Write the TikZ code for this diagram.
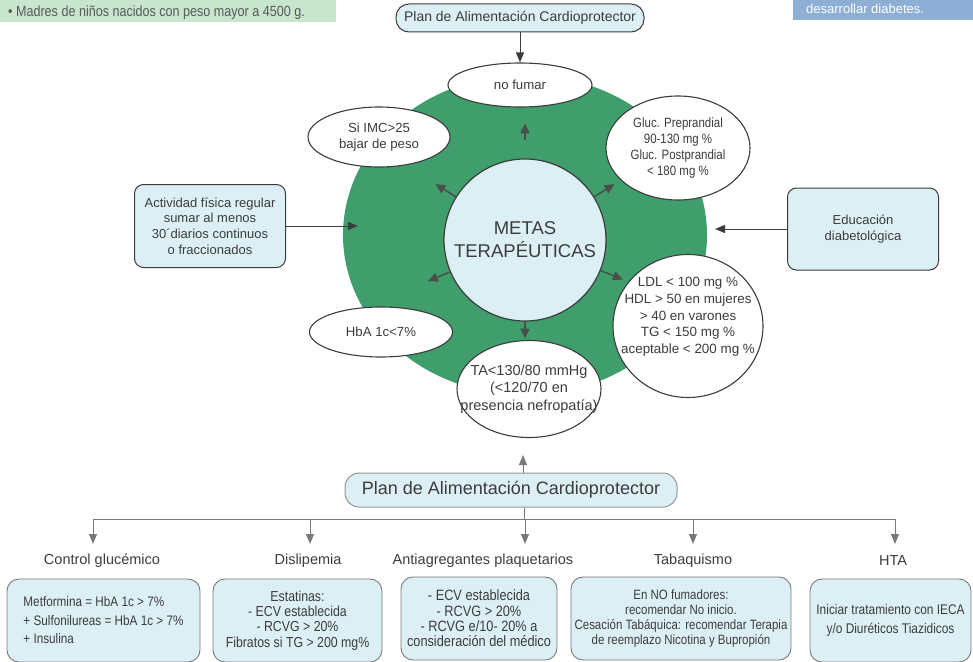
\documentclass[tikz,border=0pt]{standalone}
\usepackage{fontspec}
\setmainfont{Liberation Sans}
\newfontfamily\narrowsans[FakeStretch=0.85]{Liberation Sans}
\usepackage{tikz}
\usetikzlibrary{shapes.geometric, arrows.meta}
\usepackage{xcolor}

\definecolor{inkgray}{HTML}{3C3C3C}
\definecolor{paleblue}{HTML}{DCEFF5}
\definecolor{ringgreen}{HTML}{3F9E6C}
\definecolor{arrowgray}{HTML}{4A4F4A}
\definecolor{busgray}{HTML}{7A7A7A}
\definecolor{palegreen}{HTML}{C8E6CE}
\definecolor{stripblue}{HTML}{8DAFD6}

\tikzset{
    goal/.style={ellipse, draw=inkgray, line width=1.1pt, fill=white, inner sep=0pt, text=inkgray, align=center},
    goallabel/.style={align=center, text=inkgray, inner sep=0pt},
    infobox/.style={draw=inkgray, line width=1pt, fill=paleblue, rounded corners=9pt, text=inkgray, align=center, font=\fontsize{13}{15.7}\selectfont},
    planbox/.style={fill=paleblue, line width=1pt, text=inkgray},
    treatbox/.style={draw=busgray, line width=0.9pt, fill=paleblue, rounded corners=12pt, text=inkgray, align=center, minimum height=83, font=\narrowsans\fontsize{13.5}{15}\selectfont},
    catlabel/.style={text=inkgray, font=\fontsize{14.5}{17}\selectfont},
    flowarrow/.style={draw=busgray, line width=1pt, -{Triangle[length=10pt, width=8pt]}},
    goalarrow/.style={draw=arrowgray, line width=1.4pt, -{Triangle[length=10pt, width=9pt]}},
    busline/.style={draw=busgray, line width=1pt},
}

\begin{document}
\begin{tikzpicture}[x=1pt, y=-1pt]
    % Page size, and cut what runs over the edges
    \useasboundingbox (0,0) rectangle (973,661);
    \clip (0,0) rectangle (973,661);

    % Ends of the boxes above
    \fill[palegreen] (0,0) rectangle (336,22);
    \node[anchor=base west, inner sep=0pt, text=inkgray!85, font=\narrowsans\fontsize{14.8}{16}\selectfont] (madres) at (8,17) {• Madres de niños nacidos con peso mayor a 4500 g.};
    \fill[stripblue] (793,0) rectangle (973,20);
    \node[anchor=base west, inner sep=0pt, text=white, font=\fontsize{13}{15}\selectfont] (riesgo) at (806,14) {desarrollar diabetes.};

    % Green ring and the centre
    \node[ellipse, fill=ringgreen, minimum width=364, minimum height=320] (ring) at (525,235) {};
    \node[circle, draw=inkgray, line width=1.2pt, fill=paleblue, minimum size=162, inner sep=0pt, align=center, text=inkgray, font=\fontsize{18.5}{23}\selectfont] (metas) at (525,240) {METAS\\TERAPÉUTICAS};

    % Goals round the ring
    \node[goal, minimum width=144, minimum height=44, font=\fontsize{13.2}{16}\selectfont] (nofumar) at (520,85) {no fumar};
    \node[goal, minimum width=142, minimum height=60, font=\fontsize{13.2}{15.5}\selectfont] (imc) at (379,137) {Si IMC>25\\bajar de peso};
    \node[goal, minimum width=144, minimum height=104, font=\narrowsans\fontsize{13.5}{16.3}\selectfont] (glucemia) at (678,148) {Gluc. Preprandial\\90-130 mg \%\\Gluc. Postprandial\\< 180 mg \%};
    \node[goal, minimum width=150, minimum height=143] (lipidos) at (688,326) {};
    \node[goallabel, font=\fontsize{13.4}{16.7}\selectfont] (lipidostxt) at ([yshift=9pt]lipidos.center) {LDL < 100 mg \%\\HDL > 50 en mujeres\\> 40 en varones\\TG < 150 mg \%\\aceptable < 200 mg \%};
    \node[goal, minimum width=143, minimum height=50, font=\fontsize{13.2}{16}\selectfont] (hba) at (381,332) {HbA 1c<7\%};
    \node[goal, minimum width=144, minimum height=97] (presion) at (529,389) {};
    \node[goallabel, font=\fontsize{14.5}{17.5}\selectfont] (presiontxt) at (presion) {TA<130/80 mmHg\\(<120/70 en\\presencia nefropatía)};

    % Short arrows out of the centre
    \foreach \a in {32, 148, 203, 338}
        \draw[goalarrow] (metas.\a) -- ++(\a:24pt);
    \draw[goalarrow] ([yshift=18pt]metas.north) -- ++(90:17pt);
    \draw[goalarrow] (metas.south) -- ++(270:17pt);

    % Boxes that feed the ring
    \node[planbox, draw=inkgray, rounded corners=13pt, minimum width=248, minimum height=28, font=\fontsize{14}{16}\selectfont] (plantop) at (520,18) {Plan de Alimentación Cardioprotector};
    \node[infobox, minimum width=151, minimum height=83] (actividad) at (210,226) {Actividad física regular\\sumar al menos\\30´diarios continuos\\o fraccionados};
    \node[infobox, minimum width=151, minimum height=82, font=\fontsize{13}{16.5}\selectfont] (educacion) at (863,229) {Educación\\diabetológica};
    \coordinate (actin) at (358,226);
    \coordinate (edin) at (715,229);
    \draw[flowarrow, draw=inkgray] (plantop.south) -- (nofumar.north);
    \draw[flowarrow, draw=inkgray] (actividad) -- (actin);
    \draw[flowarrow, draw=inkgray] (educacion) -- (edin);

    % Lower plan and its branches
    \node[planbox, draw=busgray!80, rounded corners=14pt, minimum width=332, minimum height=34, font=\fontsize{18}{20}\selectfont] (planbot) at (511,490) {Plan de Alimentación Cardioprotector};
    \coordinate (tain) at (523,455);
    \coordinate (bus) at (524,519);
    \draw[flowarrow] (planbot.north -| tain) -- (tain);
    \draw[busline] (planbot.south -| bus) -- (bus);
    \foreach \n/\x in {gluc/93, disl/310, anti/525, taba/693, hta/895}
        \coordinate (in\n) at (\x,544);
    \draw[busline] (bus -| ingluc) -- (bus -| inhta);
    \foreach \n in {gluc, disl, anti, taba, hta}
        \draw[flowarrow] (bus -| in\n) -- (in\n);

    % Headings of the treatments
    \node[catlabel] (catgluc) at (102,561) {Control glucémico};
    \node[catlabel] (catdisl) at (308,561) {Dislipemia};
    \node[catlabel] (catanti) at (483,561) {Antiagregantes plaquetarios};
    \node[catlabel] (cattaba) at (693,561) {Tabaquismo};
    \node[catlabel] (cathta) at (893,561) {HTA};

    % Treatment boxes
    \node[treatbox, minimum width=193, align=left, font=\narrowsans\fontsize{13.8}{18.5}\selectfont] (metformina) at (103.5,620.5) {Metformina = HbA 1c > 7\%\\+ Sulfonilureas = HbA 1c > 7\%\\+ Insulina};
    \node[treatbox, minimum width=169, font=\narrowsans\fontsize{14.5}{15.3}\selectfont] (estatinas) at (297.5,620.5) {Estatinas:\\- ECV establecida\\- RCVG > 20\%\\Fibratos si TG > 200 mg\%};
    \node[treatbox, minimum width=156, font=\narrowsans\fontsize{15}{15.3}\selectfont] (aspirina) at (479,618.5) {- ECV establecida\\- RCVG > 20\%\\- RCVG e/10- 20\% a\\consideración del médico};
    \node[treatbox, minimum width=220] (cesacion) at (681,618.5) {En NO fumadores:\\recomendar No inicio.\\Cesación Tabáquica: recomendar Terapia\\de reemplazo Nicotina y Bupropión};
    \node[treatbox, minimum width=161, font=\narrowsans\fontsize{14}{19}\selectfont] (ieca) at (890.5,620.5) {Iniciar tratamiento con IECA\\y/o Diuréticos Tiazidicos};
\end{tikzpicture}
\end{document}
